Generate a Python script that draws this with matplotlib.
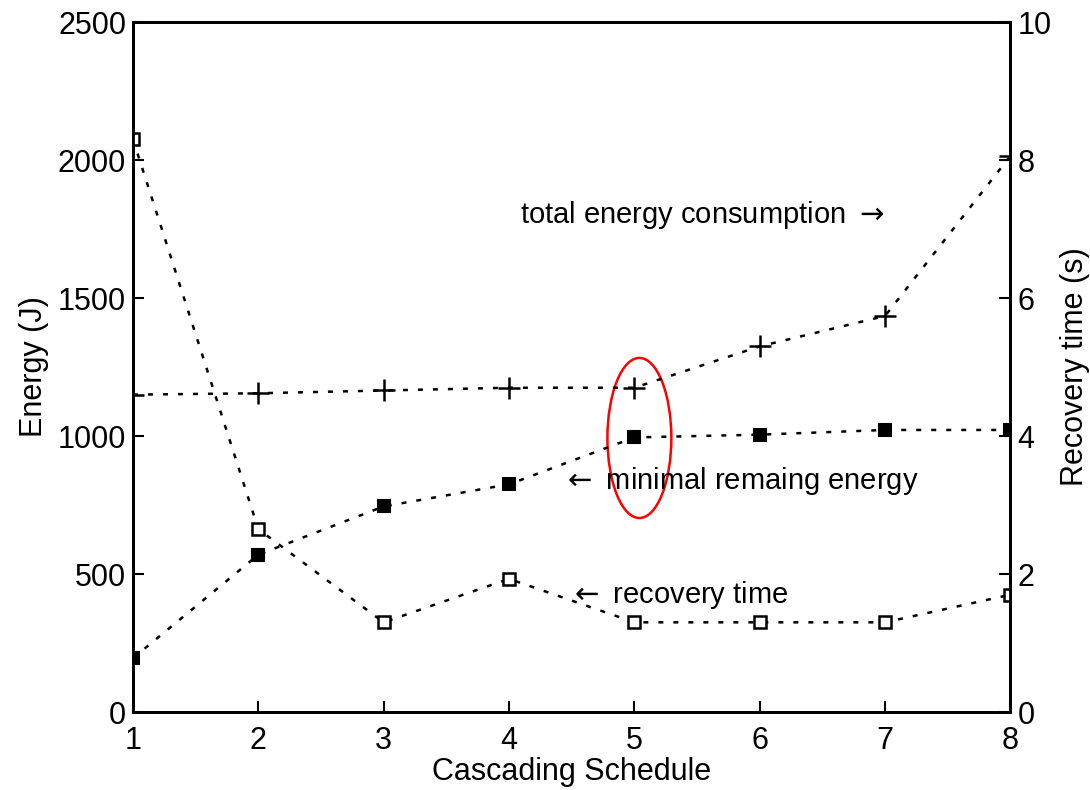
import matplotlib
matplotlib.use('Agg')
import matplotlib.pyplot as plt
from matplotlib.patches import Ellipse

schedule = [1, 2, 3, 4, 5, 6, 7, 8]
total_energy = [1150, 1155, 1165, 1175, 1175, 1325, 1435, 2015]
min_remaining = [195, 570, 745, 825, 995, 1005, 1022, 1022]
recovery_time = [8.3, 2.65, 1.3, 1.93, 1.3, 1.3, 1.3, 1.7]

plt.rcParams['font.family'] = ['Liberation Sans', 'DejaVu Sans']
plt.rcParams['mathtext.fontset'] = 'dejavusans'
plt.rcParams['font.size'] = 22

fig = plt.figure(figsize=(10.9, 7.9), dpi=100)
ax1 = fig.add_axes([0.122, 0.0987, 0.805, 0.8734])
ax2 = ax1.twinx()

ls = (0, (2, 4))
ax1.plot(schedule, total_energy, color='black', linestyle=ls, lw=1.8,
         marker='+', ms=16, mew=1.8)
ax1.plot(schedule, min_remaining, color='black', linestyle=ls, lw=1.8,
         marker='s', ms=9, mfc='black', mew=1.5)
ax2.plot(schedule, recovery_time, color='black', linestyle=ls, lw=1.8,
         marker='s', ms=9, mfc='white', mew=1.8)

ax1.set_xlim(1, 8)
ax1.set_ylim(0, 2500)
ax2.set_ylim(0, 10)
ax1.set_xticks(schedule)
ax1.set_yticks([0, 500, 1000, 1500, 2000, 2500])
ax2.set_yticks([0, 2, 4, 6, 8, 10])

for ax in (ax1, ax2):
    ax.tick_params(direction='in', length=8, width=1.5, pad=5)
    for s in ax.spines.values():
        s.set_linewidth(2)
ax1.tick_params(axis='x', pad=10)

ax1.set_xlabel('Cascading Schedule', labelpad=1)
ax1.set_ylabel('Energy (J)', labelpad=6)
ax2.set_ylabel('Recovery time (s)', labelpad=6)

ax1.text(4.09, 1800, r'total energy consumption $\rightarrow$', fontsize=21, va='center')
ax1.text(4.42, 837, r'$\leftarrow$ minimal remaing energy', fontsize=21, va='center')
ax1.text(4.48, 424, r'$\leftarrow$ recovery time', fontsize=21, va='center')

ax1.add_patch(Ellipse((5.04, 993), 0.51, 580, fill=False, edgecolor='red', lw=1.8))

fig.savefig('out.png', dpi=100)
